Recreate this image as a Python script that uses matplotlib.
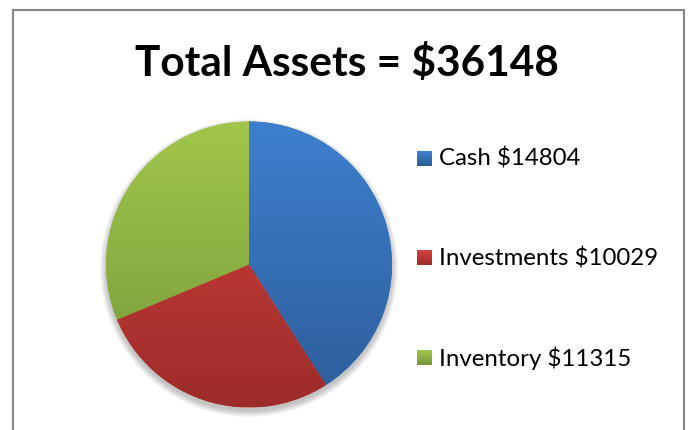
import numpy as np
import matplotlib.pyplot as plt
from matplotlib.colors import LinearSegmentedColormap
from matplotlib.patches import Rectangle, Circle

# data
labels = ["Cash", "Investments", "Inventory"]
values = [14804, 10029, 11315]
total = sum(values)

# gradient colours (top, bottom) per slice
top_colors = ["#3e80cf", "#d4413d", "#a2c64b"]
bot_colors = ["#2c5d98", "#9c2c2a", "#75993a"]

W, H = 688, 430
fig = plt.figure(figsize=(W / 100, H / 100), dpi=100)

# ------------------------------------------
# pie axes: centre (249, 264.5) px, radius 143 px
# ------------------------------------------
cx, cy, r = 249, 264.5, 143
pad = 1.1
ax = fig.add_axes([(cx - r * pad) / W, (H - cy - r * pad) / H,
                   2 * r * pad / W, 2 * r * pad / H])

# soft shadow under the pie
for k in range(8):
    ax.add_patch(Circle((0, -0.025), 1.0 + k * 0.006,
                        facecolor="black", edgecolor="none",
                        alpha=0.03, zorder=0))

wedges, _ = ax.pie(values, startangle=90, counterclock=False,
                   colors=top_colors, radius=1.0,
                   wedgeprops=dict(edgecolor="none", zorder=1))

grad = np.linspace(0, 1, 256).reshape(-1, 1)
for w, c1, c2 in zip(wedges, top_colors, bot_colors):
    cmap = LinearSegmentedColormap.from_list("g", [c1, c2])
    im = ax.imshow(grad, cmap=cmap, extent=(-1, 1, -1, 1),
                   aspect="auto", origin="upper", zorder=2)
    im.set_clip_path(w)

ax.set_xlim(-pad, pad)
ax.set_ylim(-pad, pad)
ax.set_aspect("equal")
ax.axis("off")

# ------------------------------------------
# overlay axes in pixel coords: border, title, legend
# ------------------------------------------
ov = fig.add_axes([0, 0, 1, 1], zorder=-1)
ov.axis("off")

ov.add_patch(Rectangle((13, 10), 671, 440, facecolor="white",
                       edgecolor="#868686", linewidth=1.5))

ov.text(347, 63, "Total Assets = $" + str(total), ha="center", va="center",
        fontsize=30.5, fontweight="bold", family="Lato", color="black")

leg_y = [159, 258, 358]
for lab, val, yy, c1, c2 in zip(labels, values, leg_y, top_colors, bot_colors):
    sq = np.linspace(0, 1, 16).reshape(-1, 1)
    cmap = LinearSegmentedColormap.from_list("s", [c1, c2])
    ov.imshow(sq, cmap=cmap, extent=(417, 432, yy + 7.5, yy - 7.5),
              aspect="auto", zorder=3)
    ov.text(439, yy, f"{lab} ${val}", ha="left", va="center",
            fontsize=17.3, family="Lato", color="black")

ov.set_xlim(0, W)
ov.set_ylim(H, 0)

fig.savefig("out.png", dpi=100)
